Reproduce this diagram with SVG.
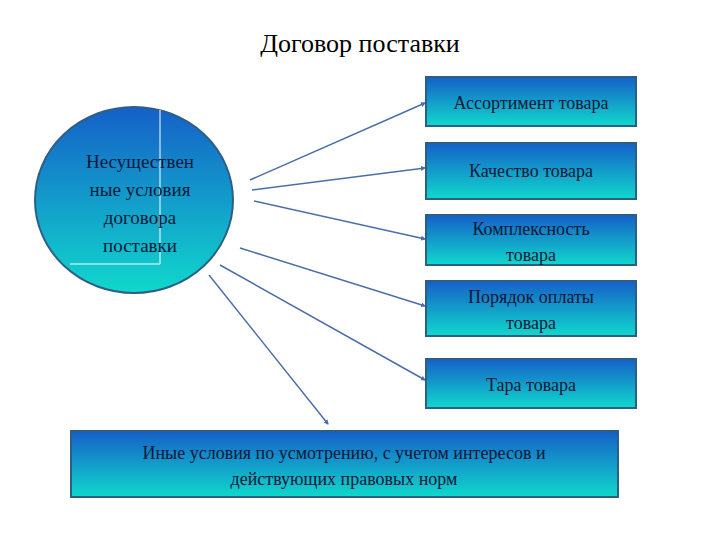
<svg xmlns="http://www.w3.org/2000/svg" width="720" height="540" viewBox="0 0 720 540">
<defs>
<linearGradient id="g" x1="0" y1="0" x2="0" y2="1"><stop offset="0" stop-color="#1560c8"/><stop offset="1" stop-color="#10d8cc"/></linearGradient>
<marker id="a" markerWidth="5" markerHeight="5" refX="4" refY="2.5" orient="auto" markerUnits="userSpaceOnUse"><path d="M0,0L5,2.5L0,5z" fill="#4a6fa8"/></marker>
<style>
.b{fill:url(#g);stroke:#2d5f86;stroke-width:2}
.t{font-family:"Liberation Serif",serif;font-size:18px;fill:#0c1838;text-anchor:middle}
.c{stroke:#4a6fa8;stroke-width:1.5;fill:none;marker-end:url(#a)}
</style>
</defs>
<rect width="720" height="540" fill="#fff"/>
<text x="360" y="52" class="t" style="font-size:26px;fill:#000">Договор поставки</text>
<g id="connectors">
<line class="c" x1="250" y1="180" x2="425" y2="103"/>
<line class="c" x1="252" y1="190" x2="425" y2="168"/>
<line class="c" x1="254" y1="201" x2="425" y2="239"/>
<line class="c" x1="240" y1="248" x2="425" y2="306"/>
<line class="c" x1="220" y1="265" x2="425" y2="380"/>
<line class="c" x1="209" y1="275" x2="328" y2="424"/>
</g>
<g id="center">
<ellipse cx="134" cy="200" rx="99" ry="93" class="b"/>
<path d="M160,110V264H70" stroke="#fff" stroke-width="1" fill="none"/>
<text class="t" style="font-size:19px"><tspan x="140" y="168">Несуществен</tspan><tspan x="140" y="196">ные условия</tspan><tspan x="140" y="224">договора</tspan><tspan x="140" y="252">поставки</tspan></text>
</g>
<g id="n1"><rect x="426" y="77" width="210" height="49" class="b"/><text x="531" y="109" class="t">Ассортимент товара</text></g>
<g id="n2"><rect x="426" y="143" width="210" height="56" class="b"/><text x="531" y="177" class="t">Качество товара</text></g>
<g id="n3"><rect x="426" y="215" width="210" height="50" class="b"/><text class="t"><tspan x="531" y="235">Комплексность</tspan><tspan x="531" y="261">товара</tspan></text></g>
<g id="n4"><rect x="426" y="281" width="210" height="55" class="b"/><text class="t"><tspan x="531" y="303">Порядок оплаты</tspan><tspan x="531" y="329">товара</tspan></text></g>
<g id="n5"><rect x="426" y="359" width="210" height="49" class="b"/><text x="531" y="391" class="t">Тара товара</text></g>
<g id="n6"><rect x="71" y="431" width="547" height="66" class="b"/><text class="t"><tspan x="344" y="459">Иные условия по усмотрению, с учетом интересов и</tspan><tspan x="344" y="485">действующих правовых норм</tspan></text></g>
</svg>
